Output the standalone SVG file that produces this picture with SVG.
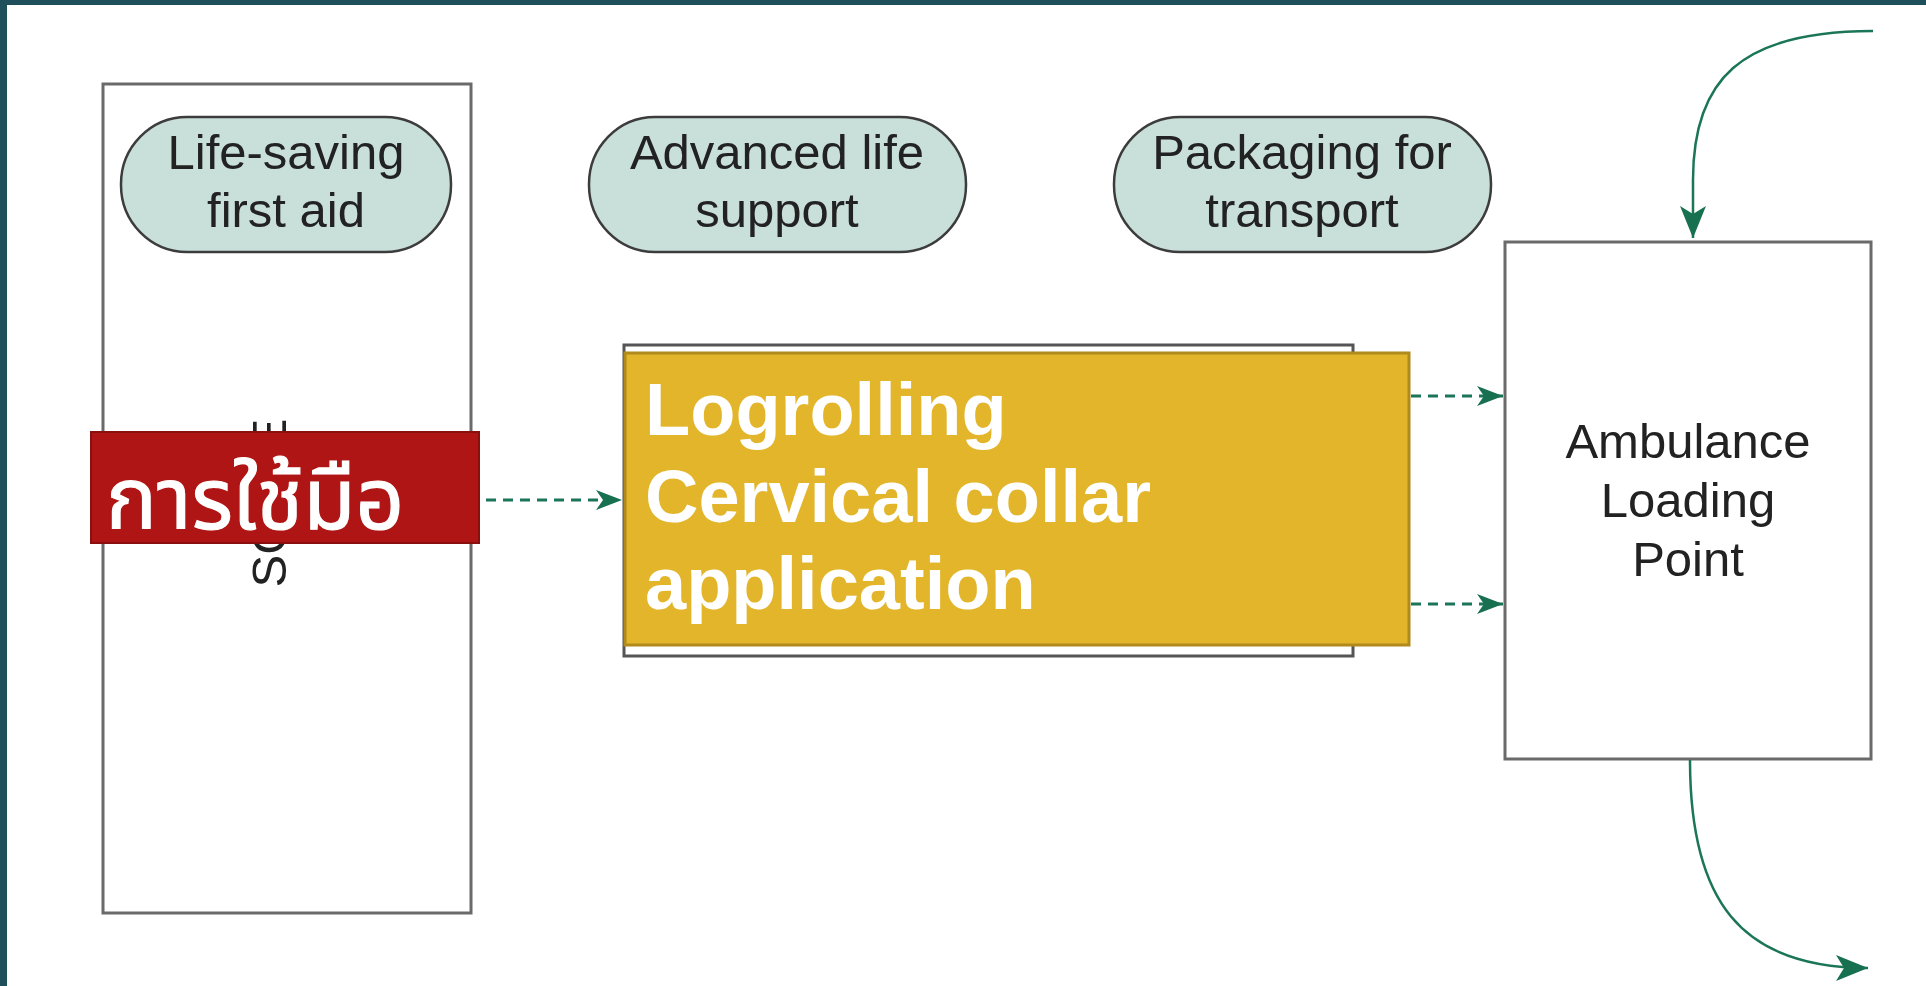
<svg xmlns="http://www.w3.org/2000/svg" width="1926" height="986" viewBox="0 0 1926 986">
<style>
.box{fill:#ffffff;stroke:#6a6a6a;stroke-width:3}
.pill{fill:#c9e0da;stroke:#3c3c3c;stroke-width:2.5}
.lbl{font-family:"Liberation Sans",Arial,sans-serif;font-size:49px;fill:#222;text-anchor:middle}
.big{font-family:"Liberation Sans",Arial,sans-serif;font-weight:bold;font-size:74px;fill:#ffffff}
.thai{font-family:"Noto Sans Thai","Noto Sans","DejaVu Sans",sans-serif;font-size:85px;fill:#ffffff;stroke:#ffffff;stroke-width:1.2}
.dash{fill:none;stroke:#1b7558;stroke-width:3;stroke-dasharray:10 7}
.curve{fill:none;stroke:#1b7558;stroke-width:2.5}
</style>
<defs>
<marker id="ah" markerUnits="userSpaceOnUse" markerWidth="28" markerHeight="22" refX="26" refY="11" orient="auto">
<path d="M0,1 L26,11 L0,21 L7,11 Z" fill="#17704f"/>
</marker>
<marker id="ahL" markerUnits="userSpaceOnUse" markerWidth="34" markerHeight="28" refX="32" refY="14" orient="auto">
<path d="M0,1 L32,14 L0,27 L8,14 Z" fill="#17704f"/>
</marker>
</defs>
<rect x="0" y="0" width="1926" height="986" fill="#ffffff"/>
<rect x="0" y="0" width="1926" height="5" fill="#1f4f5b"/>
<rect x="0" y="0" width="7" height="986" fill="#1f4f5b"/>

<g id="scene">
<rect class="box" x="103" y="84" width="368" height="829"/>
<text class="lbl" fill="#333" transform="translate(286,503) rotate(-90)">SCENE</text>
</g>

<g id="life-saving">
<rect class="pill" x="121" y="117" width="330" height="135" rx="66" ry="67"/>
<text class="lbl" x="286" y="169">Life-saving</text>
<text class="lbl" x="286" y="227">first aid</text>
</g>

<g id="advanced">
<rect class="pill" x="589" y="117" width="377" height="135" rx="66" ry="67"/>
<text class="lbl" x="777" y="169">Advanced life</text>
<text class="lbl" x="777" y="227">support</text>
</g>

<g id="packaging">
<rect class="pill" x="1114" y="117" width="377" height="135" rx="66" ry="67"/>
<text class="lbl" x="1302" y="169">Packaging for</text>
<text class="lbl" x="1302" y="227">transport</text>
</g>

<g id="middle">
<rect x="624" y="345" width="729" height="311" fill="#ffffff" stroke="#555" stroke-width="3"/>
</g>

<g id="yellow">
<rect x="625" y="353" width="784" height="292" fill="#e2b52a" stroke="#b08a1c" stroke-width="3"/>
<text class="big" x="645" y="435">Logrolling</text>
<text class="big" x="645" y="522">Cervical collar</text>
<text class="big" x="645" y="609">application</text>
</g>

<g id="red">
<rect x="91" y="432" width="388" height="111" fill="#b01515" stroke="#8a1010" stroke-width="2"/>
<text class="thai" x="106" y="529">การใช้มือ</text>
</g>

<g id="ambulance">
<rect class="box" x="1505" y="242" width="366" height="517"/>
<text class="lbl" x="1688" y="458">Ambulance</text>
<text class="lbl" x="1688" y="517">Loading</text>
<text class="lbl" x="1688" y="576">Point</text>
</g>

<g id="connectors">
<line class="dash" x1="486" y1="500" x2="622" y2="500" marker-end="url(#ah)"/>
<line class="dash" x1="1411" y1="396" x2="1503" y2="396" marker-end="url(#ah)"/>
<line class="dash" x1="1411" y1="604" x2="1503" y2="604" marker-end="url(#ah)"/>
<path class="curve" d="M1873,31 C1740,31 1693,80 1693,180 L1693,238" marker-end="url(#ahL)"/>
<path class="curve" d="M1690,760 C1690,900 1740,968 1868,968" marker-end="url(#ahL)"/>
</g>
</svg>
